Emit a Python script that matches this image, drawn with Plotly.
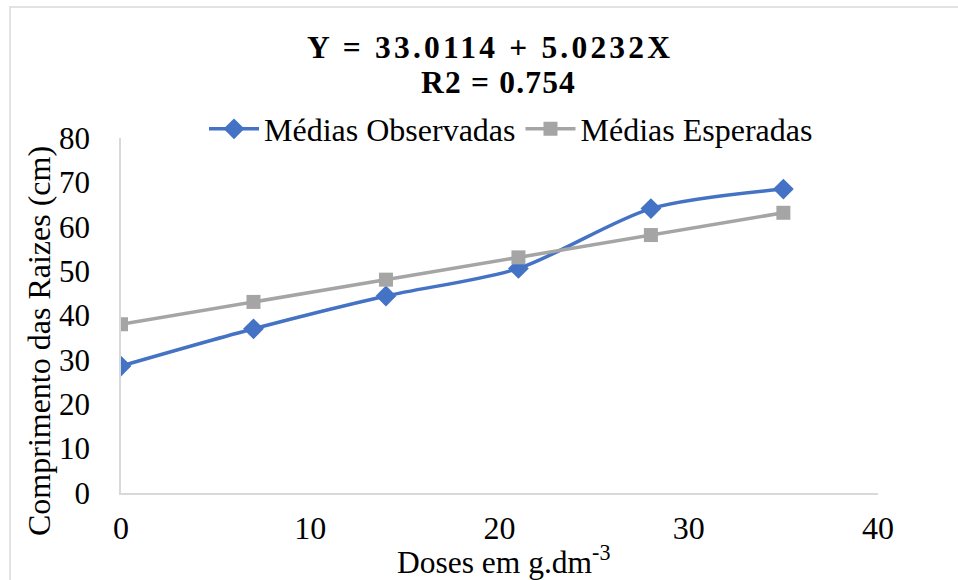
import plotly.graph_objects as go

# Doses (g.dm-3) and mean root length (cm)
doses = [0, 7, 14, 21, 28, 35]
medias_observadas = [28.6, 37.0, 44.4, 50.6, 64.1, 68.5]
medias_esperadas = [38.03, 43.06, 48.08, 53.10, 58.13, 63.15]

x_ticks = [0, 10, 20, 30, 40]
y_ticks = [0, 10, 20, 30, 40, 50, 60, 70, 80]

FONT = "Liberation Serif"
BLUE = "#4472C4"
GRAY = "#A5A5A5"
AXIS = "#D9D9D9"

W, H = 958, 580
ML, MR, MT, MB = 121, 80, 138, 87
PW, PH = W - ML - MR, H - MT - MB


def px(x):
    return (x - ML) / PW


def py(y):
    return (H - MB - y) / PH


fig = go.Figure()
fig.add_trace(go.Scatter(
    x=doses, y=medias_observadas, name="Médias Observadas",
    mode="lines+markers",
    line=dict(color=BLUE, width=3.5, shape="spline", smoothing=0.8),
    marker=dict(symbol="diamond", size=16, color=BLUE),
))
fig.add_trace(go.Scatter(
    x=doses, y=medias_esperadas, name="Médias Esperadas",
    mode="lines+markers",
    line=dict(color=GRAY, width=3.5),
    marker=dict(symbol="square", size=14, color=GRAY),
))

fig.update_layout(
    width=W, height=H,
    margin=dict(l=ML, r=MR, t=MT, b=MB),
    paper_bgcolor="white", plot_bgcolor="white",
    font=dict(family=FONT, size=30, color="black"),
    showlegend=True,
    legend=dict(
        orientation="h", x=px(511), y=py(129), xanchor="center", yanchor="middle",
        font=dict(family=FONT, size=32), itemwidth=50, tracegroupgap=0,
        bgcolor="rgba(0,0,0,0)",
    ),
    xaxis=dict(
        range=[0, 40], tickvals=x_ticks, showgrid=False, zeroline=False,
        showline=True, linecolor=AXIS, linewidth=1.5,
        ticks="", ticklabelstandoff=6,
        tickfont=dict(family=FONT, size=32),
    ),
    yaxis=dict(
        range=[0, 80], tickvals=y_ticks, showgrid=False, zeroline=False,
        showline=True, linecolor=AXIS, linewidth=1.5,
        ticks="", ticklabelstandoff=23,
        tickfont=dict(family=FONT, size=31),
    ),
)

# outer chart border
fig.add_shape(type="rect", xref="paper", yref="paper",
              x0=px(10), x1=px(975), y0=py(600), y1=py(7),
              line=dict(color=AXIS, width=1.5), fillcolor="rgba(0,0,0,0)", layer="below")

# regression equation title
fig.add_annotation(
    xref="paper", yref="paper", x=px(490), y=py(48), xanchor="center", yanchor="middle",
    showarrow=False,
    text='<b><span style="letter-spacing:3.2px">Y = 33.0114 + 5.0232X</span></b>',
    font=dict(family=FONT, size=31.5),
)
fig.add_annotation(
    xref="paper", yref="paper", x=px(498), y=py(82), xanchor="center", yanchor="middle",
    showarrow=False,
    text='<b><span style="letter-spacing:1.2px">R2 = 0.754</span></b>',
    font=dict(family=FONT, size=31.5),
)

# axis titles
fig.add_annotation(
    xref="paper", yref="paper", x=px(39), y=py(341), xanchor="center", yanchor="middle",
    showarrow=False, textangle=-90,
    text="Comprimento das Raizes (cm)",
    font=dict(family=FONT, size=32),
)
fig.add_annotation(
    xref="paper", yref="paper", x=px(503), y=py(560), xanchor="center", yanchor="middle",
    showarrow=False,
    text="Doses em g.dm<sup>-3</sup>",
    font=dict(family=FONT, size=31.5),
)

fig.write_html("out.html")
